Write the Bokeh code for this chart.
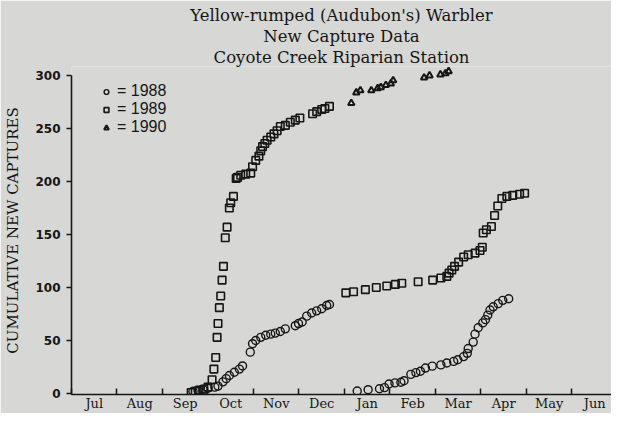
from bokeh.plotting import figure
from bokeh.models import FixedTicker, Legend, LegendItem, Range1d, Title
from bokeh.embed import file_html
from bokeh.resources import INLINE

# Month axis (x = months since Jul 1)
months = ["Jul", "Aug", "Sep", "Oct", "Nov", "Dec", "Jan", "Feb", "Mar", "Apr", "May", "Jun"]

# 1988 (circles)
x1988 = [2.67, 2.78, 2.89, 3.00, 3.15, 3.22, 3.33, 3.40, 3.47, 3.58, 3.69, 3.76, 3.93, 3.98,
         4.05, 4.16, 4.27, 4.38, 4.48, 4.59, 4.70, 4.92, 4.99, 5.07, 5.17, 5.28, 5.39, 5.50,
         5.61, 5.67,
         6.28, 6.52, 6.77, 6.88, 6.98, 7.11, 7.24, 7.31, 7.46, 7.57, 7.67, 7.78, 7.93, 8.12,
         8.25, 8.40, 8.49, 8.62, 8.70, 8.72, 8.83, 8.87, 8.94, 9.04, 9.10, 9.15, 9.20, 9.27,
         9.38, 9.48, 9.61]
y1988 = [2, 3, 4, 5, 6, 7, 11, 14, 17, 20, 23, 26, 39, 47,
         50, 53, 55, 56, 57, 58.5, 61, 64, 66, 67.5, 73, 76, 78, 80,
         83, 84,
         2.4, 3.6, 4.5, 5.5, 9, 10, 10.6, 12, 18, 19.7, 21, 24, 25.8, 27,
         28.8, 30.3, 31.8, 34.8, 37.9, 42.4, 48.5, 56, 62, 66.6, 69.7, 74, 78.8, 81.8,
         84.8, 87.9, 89.4]

# 1989 (squares)
x1989 = [2.63, 2.72, 2.80, 2.91, 3.00, 3.09, 3.13, 3.17, 3.20, 3.22, 3.25, 3.28, 3.31, 3.34,
         3.38, 3.42, 3.47, 3.50, 3.56, 3.62, 3.65, 3.72, 3.83, 3.94, 3.98, 4.05, 4.12, 4.16,
         4.20, 4.25, 4.30, 4.38, 4.45, 4.52, 4.59, 4.70, 4.81, 4.92, 5.02, 5.30, 5.39, 5.50,
         5.57, 5.67,
         6.03, 6.20, 6.46, 6.70, 6.93, 7.12, 7.26, 7.62, 7.94, 8.12, 8.25, 8.30, 8.36, 8.42,
         8.51, 8.62, 8.72, 8.87, 8.98, 9.03, 9.05, 9.12, 9.23, 9.30, 9.37, 9.46, 9.57, 9.70,
         9.85, 9.96]
y1989 = [1, 2, 3, 4, 6, 13, 23, 34, 53, 66, 81, 92, 107, 120,
         147, 157, 175, 180, 186, 203, 204, 206, 207, 208, 214, 220, 224, 229,
         233, 236, 239, 242, 245, 248, 252, 253, 256, 258, 260, 264, 266, 268,
         269, 271,
         95, 96, 98, 100, 101.5, 103, 104, 105.5, 107, 109, 110.5, 113.6, 116.6, 120,
         124, 128.8, 131, 132.5, 135, 138, 151.5, 154.5, 157.6, 168, 177, 184, 186, 187,
         188, 189]

# 1990 (triangles)
x1990 = [6.15, 6.26, 6.35, 6.59, 6.73, 6.80, 6.91, 7.02, 7.07, 7.75, 7.87, 8.11, 8.22, 8.29]
y1990 = [274, 284, 286, 286, 288, 289, 291, 292.5, 295.5, 298, 300, 301, 302, 304]

ytick_values = [0, 50, 100, 150, 200, 250, 300]
title_lines = ["Yellow-rumped (Audubon's) Warbler", "New Capture Data", "Coyote Creek Riparian Station"]

INK = "#161616"
PAPER = "#d7d7d5"

p = figure(width=611, height=413, output_backend="svg", toolbar_location=None,
           x_range=Range1d(0, 11.87), y_range=Range1d(-0.95, 308.6),
           min_border_left=71, min_border_right=0, min_border_top=66, min_border_bottom=0)
p.title = None
p.background_fill_color = PAPER
p.border_fill_color = PAPER
p.outline_line_color = None
p.grid.visible = False

# titles: added from the line nearest the plot outward
for line in reversed(title_lines):
    p.add_layout(Title(text=line, align="center", text_font="DejaVu Serif",
                       text_font_style="normal", text_font_size="16.5px",
                       text_color=INK, standoff=0), "above")

r88 = p.scatter(x1988, y1988, marker="circle", size=8, fill_color=None, line_color=INK, line_width=1.4)
r89 = p.scatter(x1989, y1989, marker="square", size=7.5, fill_color=None, line_color=INK, line_width=1.6)
r90 = p.scatter(x1990, y1990, marker="triangle", size=6.5, fill_color=None, line_color=INK, line_width=2)

# x axis: month boundary ticks (minor, inward) and labels mid-month
xa = p.xaxis[0]
xa.axis_label = None
xa.ticker = FixedTicker(ticks=[i + 0.5 for i in range(12)], minor_ticks=list(range(13)))
xa.major_label_overrides = {i + 0.5: m for i, m in enumerate(months)}
xa.major_tick_in = 0
xa.major_tick_out = 0
xa.minor_tick_in = 6
xa.minor_tick_out = 0
xa.minor_tick_line_color = INK
xa.minor_tick_line_width = 1.5
xa.axis_line_color = INK
xa.axis_line_width = 1.6
xa.bounds = (0, 12)
xa.major_label_standoff = 1
xa.major_label_text_font = "DejaVu Serif"
xa.major_label_text_font_size = "13px"
xa.major_label_text_color = INK

ya = p.yaxis[0]
ya.ticker = FixedTicker(ticks=ytick_values, minor_ticks=[])
ya.major_tick_in = 0
ya.major_tick_out = 5
ya.major_tick_line_color = INK
ya.major_tick_line_width = 1.5
ya.axis_line_color = INK
ya.axis_line_width = 1.6
ya.bounds = (-0.95, 300)
ya.major_label_standoff = 6
ya.major_label_text_font = "DejaVu Sans"
ya.major_label_text_font_style = "bold"
ya.major_label_text_font_size = "12px"
ya.major_label_text_color = INK
ya.axis_label = "CUMULATIVE NEW CAPTURES"
ya.axis_label_text_font = "DejaVu Serif"
ya.axis_label_text_font_style = "normal"
ya.axis_label_text_font_size = "15px"
ya.axis_label_text_color = INK
ya.axis_label_standoff = 10

legend = Legend(items=[LegendItem(label="= 1988", renderers=[r88]),
                       LegendItem(label="= 1989", renderers=[r89]),
                       LegendItem(label="= 1990", renderers=[r90])],
                location=(29, 258))
legend.background_fill_alpha = 0
legend.border_line_color = None
legend.padding = 0
legend.spacing = 0
legend.glyph_width = 12
legend.glyph_height = 17
legend.label_height = 17
legend.label_standoff = 5
legend.label_text_font = "Liberation Sans"
legend.label_text_font_size = "16px"
legend.label_text_color = INK
p.add_layout(legend)

open("out.html", "w").write(file_html(p, INLINE))
